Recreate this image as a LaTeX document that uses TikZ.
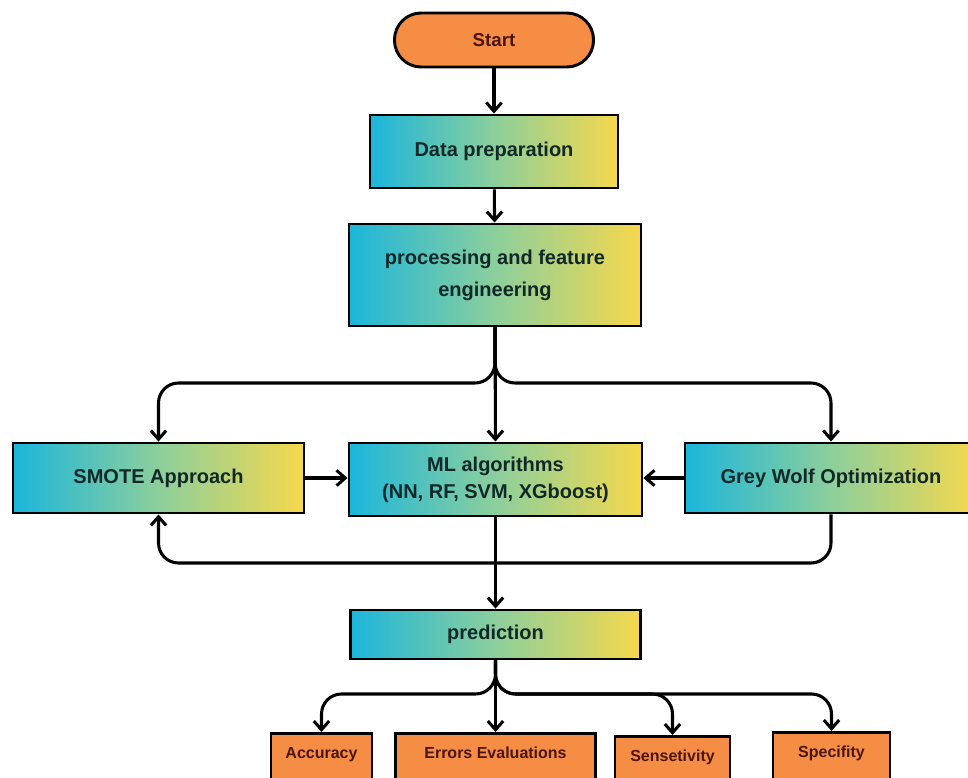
\documentclass[tikz,border=0pt]{standalone}
\usepackage{fontspec}
\setmainfont{Liberation Sans}
\usepackage{tikz}
\usetikzlibrary{arrows.meta,shapes}
\definecolor{gradL}{HTML}{1BB6DC}
\definecolor{gradM}{HTML}{8CCF9C}
\definecolor{gradR}{HTML}{F6D84C}
\definecolor{orangebox}{HTML}{F68D45}
\definecolor{boxtext}{HTML}{112828}
\definecolor{darkbrown}{HTML}{4B150C}
\tikzstyle{stepbox}=[rectangle, draw
,left color=gradL, right color=gradR, middle color=gradM
,line width=2.2pt
,text=boxtext
,font=\fontsize{15pt}{20pt}\selectfont\bfseries
,align=center
,inner sep=0pt
]
\tikzstyle{terminal}=[rectangle, draw, rounded corners=20pt
,fill=orangebox
,line width=2.2pt
,minimum width=149.25pt, minimum height=40.5pt
,text=darkbrown
,font=\fontsize{14pt}{16pt}\selectfont\bfseries
]
\tikzstyle{outbox}=[rectangle, draw, fill=orangebox
,line width=2.2pt
,anchor=north
,inner sep=0pt, text height=18.75pt, text depth=45pt
,text=darkbrown
,font=\fontsize{12pt}{14pt}\selectfont\bfseries
]
\tikzstyle{edge} = [draw, line width=2.3pt, -{Straight Barb[length=6.5pt,width=11.5pt]}]
\tikzstyle{link} = [edge, rounded corners=15pt]

\begin{document}
\begin{tikzpicture}[x=0.75pt, y=-0.75pt]
    \useasboundingbox (0,0) rectangle (968,778);
    \clip (0,0) rectangle (968,778);
    \fill[white] (0,0) rectangle (968,778);

    % The main steps of the flow
    \node[terminal] (start) at (494,40) {Start};
    \node[stepbox, minimum width=186pt, minimum height=54.75pt] (data) at (494,151.5) {Data preparation};
    \node[stepbox, minimum width=219pt, minimum height=76.5pt] (proc) at (495,275) {processing and feature\\[4pt]engineering};
    \node[stepbox, minimum width=218.25pt, minimum height=52.5pt] (smote) at (158.5,478) {SMOTE Approach};
    \node[stepbox, minimum width=219.75pt, minimum height=54.75pt] (ml) at (495.5,479.5) {ML algorithms\\(NN, RF, SVM, XGboost)};
    \node[stepbox, minimum width=219pt, minimum height=52.5pt] (gwo) at (831,478) {Grey Wolf Optimization};
    \node[stepbox, minimum width=217.5pt, minimum height=36.75pt] (pred) at (495.5,634.5) {prediction};

    % The measures under the prediction
    \foreach \pos/\name/\txt/\boxw in {{(321.5,732)/acc/Accuracy/75.75pt}, {(495.5,732)/err/Errors Evaluations/150pt}, {(672.5,735)/sens/Sensetivity/86.25pt}, {(831.5,731)/spec/Specifity/87.75pt}}
        \node[outbox, minimum width=\boxw] (\name) at \pos {\txt};

    % Points where the lines split
    \coordinate (fork) at (495,383);
    \coordinate (loop) at (495,563);
    \coordinate (fan) at (495,694);

    % Connect the steps
    \foreach \source/\dest in {start/data, data/proc, proc/ml, ml/pred, pred/err}
        \path[edge] (\source) -- (\dest);
    \foreach \dest in {smote, gwo}
        \path[link] (proc.south) |- (\dest.north |- fork) -- (\dest.north);
    \path[edge] (smote.east) -- (smote.east -| ml.west);
    \path[edge] (gwo.west) -- (gwo.west -| ml.east);
    \path[link] (gwo.south) |- (smote.south |- loop) -- (smote.south);
    \foreach \dest in {acc, sens, spec}
        \path[link] (pred.south) |- (\dest.north |- fan) -- (\dest.north);

\end{tikzpicture}
\end{document}
